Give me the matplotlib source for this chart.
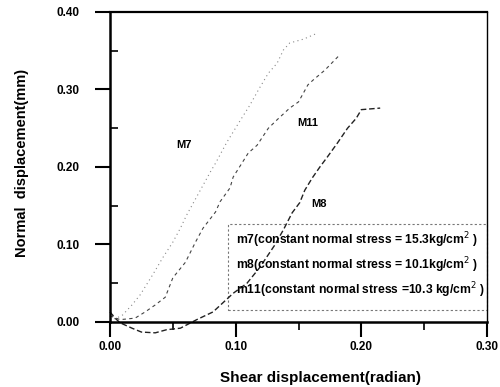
import matplotlib
matplotlib.use("Agg")
import matplotlib.pyplot as plt
from matplotlib.ticker import MultipleLocator, FormatStrFormatter
from matplotlib.patches import Rectangle

plt.rcParams['font.family'] = ['Liberation Sans', 'DejaVu Sans']

# M7 series
m7_x = [0.000, 0.004, 0.010, 0.0175, 0.024, 0.034, 0.042, 0.050, 0.056, 0.061, 0.080, 0.084,
        0.093, 0.104, 0.111, 0.119, 0.126, 0.133, 0.138, 0.143, 0.154, 0.164]
m7_y = [0.015, 0.004, 0.009, 0.022, 0.035, 0.061, 0.083, 0.103, 0.121, 0.138, 0.194, 0.205,
        0.232, 0.261, 0.279, 0.302, 0.321, 0.334, 0.351, 0.360, 0.365, 0.372]

# M11 series
m11_x = [0.000, 0.008, 0.020, 0.028, 0.036, 0.044, 0.050, 0.060, 0.068, 0.074, 0.084, 0.0875,
         0.0955, 0.098, 0.105, 0.110, 0.117, 0.126, 0.133, 0.143, 0.150, 0.1575, 0.1615, 0.171, 0.183]
m11_y = [0.008, 0.003, 0.005, 0.013, 0.022, 0.032, 0.057, 0.077, 0.103, 0.121, 0.142, 0.155,
         0.173, 0.187, 0.205, 0.218, 0.228, 0.250, 0.261, 0.276, 0.284, 0.306, 0.312, 0.325, 0.345]

# M8 series
m8_x = [0.000, 0.004, 0.008, 0.0175, 0.025, 0.036, 0.045, 0.056, 0.069, 0.082, 0.098, 0.109,
        0.119, 0.131, 0.138, 0.145, 0.151, 0.155, 0.161, 0.167, 0.173, 0.181, 0.189, 0.196,
        0.200, 0.215]
m8_y = [0.013, 0.005, -0.001, -0.008, -0.013, -0.014, -0.010, -0.008, 0.003, 0.013, 0.037, 0.050,
        0.070, 0.099, 0.119, 0.141, 0.154, 0.170, 0.186, 0.200, 0.213, 0.231, 0.250, 0.263,
        0.274, 0.276]

legend_lines = ["m7(constant normal stress = 15.3kg/cm$^{2}$ )",
                "m8(constant normal stress = 10.1kg/cm$^{2}$ )",
                "m11(constant normal stress =10.3 kg/cm$^{2}$ )"]

fig = plt.figure(figsize=(5.0, 3.87), dpi=100)
ax = fig.add_axes([0.22, 0.168, 0.754, 0.801])

ax.plot(m7_x, m7_y, color='#888888', lw=0.8, ls=(0, (1, 3)), clip_on=False)
ax.plot(m11_x, m11_y, color='#444444', lw=0.8, ls=(0, (3, 3)), clip_on=False)
ax.plot(m8_x, m8_y, color='#222222', lw=1.0, ls=(0, (4, 2)), clip_on=False)

ax.text(0.059, 0.228, 'M7', fontsize=8, fontweight='bold', ha='center', va='center')
ax.text(0.157, 0.257, 'M11', fontsize=8, fontweight='bold', ha='center', va='center')
ax.text(0.166, 0.152, 'M8', fontsize=8, fontweight='bold', ha='center', va='center')

ax.set_xlim(0, 0.30)
ax.set_ylim(0, 0.40)
ax.xaxis.set_major_locator(MultipleLocator(0.10))
ax.xaxis.set_minor_locator(MultipleLocator(0.05))
ax.yaxis.set_major_locator(MultipleLocator(0.10))
ax.yaxis.set_minor_locator(MultipleLocator(0.05))
ax.xaxis.set_major_formatter(FormatStrFormatter('%.2f'))
ax.yaxis.set_major_formatter(FormatStrFormatter('%.2f'))

ax.tick_params(axis='both', which='major', direction='out', length=11, width=1.5,
               labelsize=8.5)
ax.tick_params(axis='y', which='major', pad=11)
ax.tick_params(axis='x', which='major', pad=3)
ax.tick_params(axis='y', which='minor', direction='in', length=6, width=1.2)
ax.tick_params(axis='x', which='minor', direction='out', length=6, width=1.2)
for lab in ax.get_xticklabels() + ax.get_yticklabels():
    lab.set_fontweight('bold')

ax.spines['left'].set_linewidth(1.8)
ax.spines['bottom'].set_linewidth(1.8)
ax.spines['top'].set_linewidth(1.6)
ax.spines['right'].set_linewidth(1.0)

ax.set_xlabel('Shear displacement(radian)', fontsize=11, fontweight='bold')
ax.xaxis.set_label_coords((321 - 110) / 377, (322 - 378) / 310, transform=ax.transAxes)
ax.xaxis.label.set_va('center')
ax.set_ylabel('Normal  displacement(mm)', fontsize=10.5, fontweight='bold')
ax.yaxis.set_label_coords((22 - 110) / 377, (322 - 163) / 310, transform=ax.transAxes)
ax.yaxis.label.set_va('center')

# legend box
box = Rectangle((0.094, 0.016), 0.206, 0.11, transform=ax.transData, fill=False,
                edgecolor='#777777', lw=0.8, ls=(0, (2, 2)), clip_on=False)
ax.add_patch(box)
for i, t in enumerate(legend_lines):
    ax.text(0.100, 0.105 - i * 0.032, t, fontsize=8.7, fontweight='bold',
            ha='left', va='center')

fig.savefig('out.png', dpi=100)
